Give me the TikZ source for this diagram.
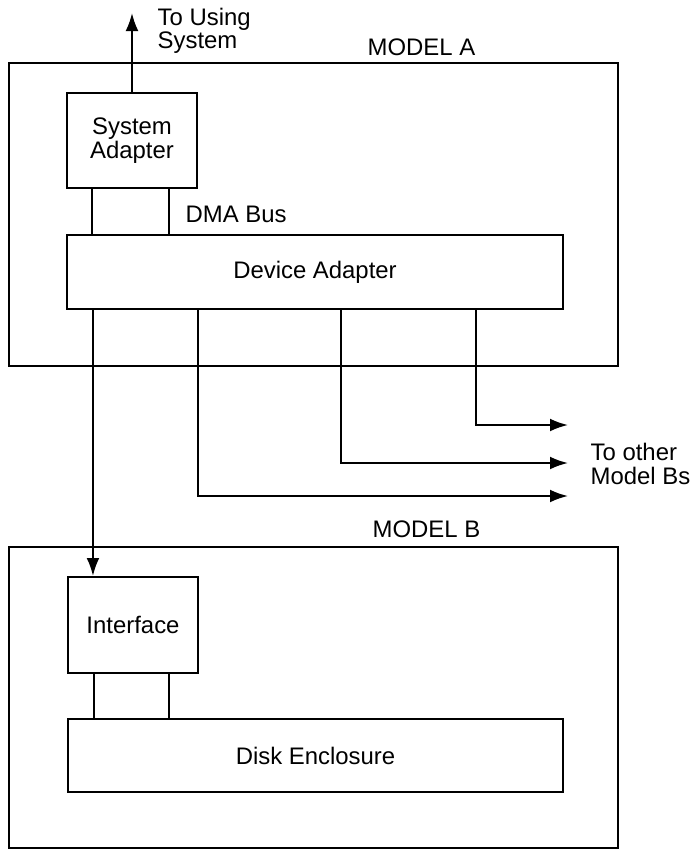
\documentclass[tikz,border=0pt]{standalone}
\usepackage{fontspec}
\setmainfont{Liberation Sans}
\usetikzlibrary{arrows.meta,positioning}

\begin{document}
\begin{tikzpicture}[x=0.025cm,y=-0.025cm,line width=1.4pt,
  font=\fontsize{17}{15}\selectfont,
  box/.style={draw, align=center, inner sep=0pt},
  >={Latex[length=4.5mm,width=3.2mm]}]

\useasboundingbox (0,0) rectangle (691,849);

%%%%%%%%%%%%%%%
% model A
\node[box, minimum width=15.225cm, minimum height=7.575cm] (A) at (313.5,214.5) {};
\node[anchor=base west] (Alab) at (362,55) {MODEL A};

\node[box, minimum width=3.25cm, minimum height=2.375cm] (sa) at (132,140.5) {System\\Adapter};
\node[box, minimum width=12.4cm, minimum height=1.85cm] (da) at (315,272) {Device Adapter};

\coordinate (up) at (132,13);
\draw[->] (sa.north) -- (up);
\node[anchor=west, align=left] (us) at (152,31) {To Using\\System};

\draw ([xshift=-1cm]sa.south) -- ([xshift=-1cm]sa.south |- da.north);
\draw ([xshift=0.925cm]sa.south) -- ([xshift=0.925cm]sa.south |- da.north);
\node[anchor=base west] (dma) at (180,222) {DMA Bus};

%%%%%%%%%%%%%%%
% model B
\node[box, minimum width=15.225cm, minimum height=7.525cm] (B) at (313.5,697.5) {};
\node[anchor=base west] (Blab) at (367,537) {MODEL B};

\node[box, minimum width=3.25cm, minimum height=2.4cm] (ib) at (133,625) {Interface};
\node[box, minimum width=12.375cm, minimum height=1.825cm] (de) at (315.5,755.5) {Disk Enclosure};

\draw ([xshift=-0.975cm]ib.south) -- ([xshift=-0.975cm]ib.south |- de.north);
\draw ([xshift=0.9cm]ib.south) -- ([xshift=0.9cm]ib.south |- de.north);

%%%%%%%%%%%%%%%
% links to the model Bs
\coordinate (p1) at ([xshift=0.675cm]da.south west);
\coordinate (p2) at ([xshift=3.3cm]da.south west);
\coordinate (p3) at ([xshift=6.875cm]da.south west);
\coordinate (p4) at ([xshift=10.25cm]da.south west);
\coordinate (o2) at (568,496);
\coordinate (o3) at (568,463);
\coordinate (o4) at (568,425);

\draw[->] (p1) -- (p1 |- ib.north);
\draw[->] (p2) |- (o2);
\draw[->] (p3) |- (o3);
\draw[->] (p4) |- (o4);

\node[anchor=west, align=left, font=\fontsize{17}{17}\selectfont] (ob) at (585,464) {To other\\Model Bs};

\end{tikzpicture}
\end{document}
